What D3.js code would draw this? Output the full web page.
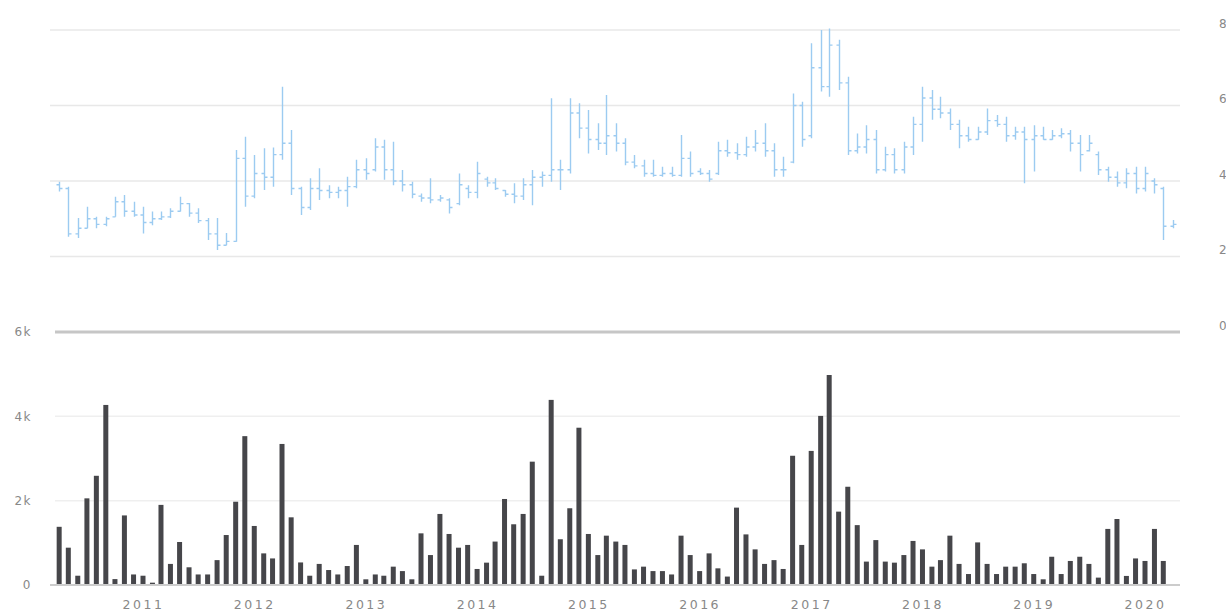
<!DOCTYPE html>
<html>
<head>
<meta charset="utf-8">
<script src="https://cdn.jsdelivr.net/npm/d3@7"></script>
<style>
  html, body { margin: 0; padding: 0; background: #ffffff; }
  svg { display: block; }
  text { font-family: "DejaVu Sans", Verdana, sans-serif; }
</style>
</head>
<body>
<svg id="chart" width="1226" height="614"></svg>
<script>
// ---- Data (monthly, April 2010 .. April 2020) ----
const startMonth = "2010-04";
const priceHigh = [3.98,3.85,3.02,3.32,3.05,3.05,3.58,3.63,3.45,
  3.32,3.19,3.19,3.28,3.58,3.42,3.28,3.02,3.02,2.62,4.82,5.17,
  4.69,4.87,4.89,6.50,5.35,3.85,4.07,4.34,3.89,3.85,4.11,4.56,
  4.60,5.13,5.09,5.04,4.29,3.98,3.67,4.07,3.63,3.54,4.20,3.89,
  4.51,4.11,4.07,3.76,3.94,4.07,4.29,4.25,6.19,4.56,6.19,6.06,
  5.88,5.53,6.28,5.53,5.13,4.69,4.56,4.56,4.38,4.38,5.22,4.78,
  4.34,4.29,5.04,5.09,5.00,5.17,5.35,5.53,5.00,4.64,6.32,6.10,
  7.65,8.00,8.04,7.74,6.76,5.26,5.48,5.35,4.91,4.87,5.04,5.70,
  6.50,6.41,6.23,5.92,5.62,5.44,5.44,5.92,5.75,5.70,5.44,5.44,
  5.48,5.44,5.35,5.40,5.35,5.22,5.22,4.78,4.38,4.25,4.34,4.38,
  4.38,4.07,3.85,2.97];
const priceLow = [3.72,2.52,2.49,2.75,2.75,2.80,3.05,3.05,3.05,
  2.61,2.83,2.97,3.02,3.19,3.05,2.89,2.44,2.17,2.30,2.39,3.32,
  3.54,3.76,3.85,4.56,3.63,3.10,3.23,3.50,3.54,3.54,3.32,3.81,
  4.03,4.25,4.03,3.89,3.72,3.54,3.45,3.41,3.45,3.14,3.36,3.54,
  3.54,3.85,3.76,3.58,3.41,3.50,3.36,3.85,3.98,3.76,4.20,5.13,
  4.73,4.82,4.69,4.78,4.42,4.34,4.11,4.11,4.11,4.11,4.11,4.11,
  4.16,3.98,4.16,4.64,4.56,4.64,4.78,4.64,4.11,4.11,4.47,4.91,
  5.13,6.37,6.23,6.41,4.69,4.73,4.73,4.20,4.25,4.20,4.20,4.69,
  5.04,5.62,5.66,5.35,4.87,5.04,5.09,5.22,5.44,5.04,5.09,3.94,
  4.25,5.09,5.09,5.13,4.78,4.25,4.78,4.16,3.98,3.85,3.81,3.67,
  3.72,3.67,2.44,2.75];
const priceOpen = [3.90,3.80,2.60,2.75,3.00,2.85,3.05,3.45,3.20,
  3.10,2.90,3.00,3.05,3.20,3.40,3.15,2.95,2.60,2.30,2.40,4.60,
  3.60,4.20,4.10,4.70,5.00,3.80,3.30,3.80,3.75,3.70,3.75,3.85,
  4.30,4.30,4.90,4.30,4.00,3.90,3.60,3.55,3.50,3.50,3.40,3.80,
  3.70,4.05,3.95,3.75,3.65,3.60,3.90,4.10,4.15,4.30,4.30,5.80,
  5.40,5.10,5.00,5.20,5.00,4.50,4.40,4.20,4.15,4.20,4.15,4.60,
  4.25,4.20,4.20,4.80,4.75,4.70,4.90,5.00,4.80,4.30,4.50,6.00,
  5.20,7.00,6.50,7.60,6.60,4.80,4.90,5.10,4.30,4.70,4.30,4.90,
  5.50,6.20,5.90,5.80,5.50,5.20,5.10,5.30,5.60,5.50,5.20,5.30,
  5.10,5.20,5.10,5.20,5.25,5.00,4.80,4.70,4.30,4.10,3.95,4.20,
  3.80,4.00,3.80,2.80];
const priceClose = [3.80,2.60,2.75,3.00,2.85,3.00,3.45,3.20,3.10,
  2.90,3.00,3.05,3.20,3.40,3.15,2.95,2.60,2.30,2.40,4.60,3.60,
  4.20,4.10,4.70,5.00,3.80,3.30,3.80,3.75,3.70,3.75,3.85,4.30,
  4.20,4.90,4.30,4.00,3.90,3.65,3.55,3.50,3.55,3.30,3.90,3.70,
  4.20,3.95,3.80,3.65,3.60,3.90,4.10,4.15,4.30,4.30,5.80,5.40,
  5.10,5.00,5.20,5.00,4.50,4.40,4.20,4.15,4.20,4.15,4.60,4.20,
  4.20,4.05,4.80,4.75,4.70,4.90,5.00,4.80,4.30,4.30,6.00,5.10,
  7.00,6.50,7.60,6.60,4.80,4.90,5.10,4.30,4.70,4.30,4.90,5.50,
  6.20,5.90,5.80,5.50,5.20,5.10,5.30,5.60,5.50,5.20,5.30,5.10,
  5.20,5.10,5.20,5.25,5.00,4.70,5.00,4.30,4.10,3.95,4.20,3.80,
  4.20,3.90,2.80,2.85];
const volume = [1380,885,220,2055,2590,4270,140,1650,250,
  220,55,1900,500,1020,420,250,250,590,1185,1975,3530,
  1400,750,630,3345,1605,535,220,500,355,250,450,950,
  135,250,220,435,330,135,1225,710,1685,1210,885,950,
  380,530,1030,2040,1440,1685,2925,220,4390,1085,1820,3730,
  1210,710,1170,1030,950,370,435,330,330,250,1170,710,
  330,750,395,200,1835,1200,845,500,590,380,3065,950,
  3180,4010,4980,1740,2330,1420,555,1065,555,530,710,1045,
  845,435,590,1170,500,260,1010,500,260,435,435,515,
  260,135,670,260,570,670,500,175,1330,1565,215,630,
  570,1330,570,0];
const priceTicks = [0, 2, 4, 6, 8];
const volumeTicks = [0, 2000, 4000, 6000];
const yearTicks = [2011,2012,2013,2014,2015,2016,2017,2018,2019,2020];

// ---- Build records ----
const parseMonth = d3.utcParse("%Y-%m");
const start = parseMonth(startMonth);
const rows = priceHigh.map((h, i) => ({
  date: d3.utcMonth.offset(start, i),
  high: h, low: priceLow[i], open: priceOpen[i], close: priceClose[i],
  vol: volume[i]
}));

// ---- Layout ----
const plotLeft = 50, plotRight = 1180;
const svg = d3.select("#chart");
svg.append("rect").attr("width", 1226).attr("height", 614).attr("fill", "#ffffff");

const anchor = d3.scaleUtc()
  .domain([Date.UTC(2011,0,1), Date.UTC(2020,0,1)])
  .range([143, 1145]);
const x = d3.scaleUtc()
  .domain([anchor.invert(plotLeft), anchor.invert(plotRight)])
  .range([plotLeft, plotRight]);

const yPrice = d3.scaleLinear().domain([0, 8]).range([332, 30]);
const yVol = d3.scaleLinear().domain([0, 6000]).range([585, 332]);

// ---- Grid: price panel ----
svg.append("g").selectAll("line")
  .data(priceTicks.filter(t => t > 0))
  .join("line")
  .attr("x1", plotLeft).attr("x2", plotRight)
  .attr("y1", d => yPrice(d)).attr("y2", d => yPrice(d))
  .attr("stroke", "#e8e8e8").attr("stroke-width", 1.5);

// ---- Grid: volume panel ----
svg.append("g").selectAll("line")
  .data(volumeTicks.filter(t => t > 0 && t < 6000))
  .join("line")
  .attr("x1", 55).attr("x2", plotRight)
  .attr("y1", d => yVol(d)).attr("y2", d => yVol(d))
  .attr("stroke", "#efefef").attr("stroke-width", 1.5);

// separator (price 0 / volume 6k)
svg.append("line")
  .attr("x1", 55).attr("x2", plotRight)
  .attr("y1", yVol(6000)).attr("y2", yVol(6000))
  .attr("stroke", "#c6c6c6").attr("stroke-width", 3);

// ---- Volume bars ----
const barW = 5;
svg.append("g").selectAll("rect")
  .data(rows.filter(d => d.vol > 0))
  .join("rect")
  .attr("x", d => x(d.date) - barW / 2)
  .attr("width", barW)
  .attr("y", d => yVol(d.vol))
  .attr("height", d => yVol(0) - yVol(d.vol))
  .attr("fill", "#46464a");

// baseline
svg.append("line")
  .attr("x1", plotLeft).attr("x2", plotRight)
  .attr("y1", yVol(0)).attr("y2", yVol(0))
  .attr("stroke", "#cccccc").attr("stroke-width", 2);

// ---- OHLC ----
const tick = 3;
svg.append("g").selectAll("path")
  .data(rows)
  .join("path")
  .attr("d", d => {
    const cx = Math.round(x(d.date)) + 0.5;
    return `M${cx},${yPrice(d.high)}V${yPrice(d.low)}` +
      `M${cx - tick},${yPrice(d.open)}H${cx}` +
      `M${cx},${yPrice(d.close)}H${cx + tick}`;
  })
  .attr("fill", "none")
  .attr("stroke", "#9ccbf1")
  .attr("stroke-width", 1.4);

// ---- Axes ----
const labelColor = "#888888";

const gPriceAxis = svg.append("g")
  .attr("transform", "translate(1219,0)")
  .call(d3.axisRight(yPrice).tickValues(priceTicks).tickSize(0).tickPadding(0)
    .tickFormat(d3.format("d")));
gPriceAxis.select(".domain").remove();
gPriceAxis.selectAll("text")
  .attr("fill", labelColor).attr("font-size", 12).attr("dy", "-0.25em")
  .attr("text-anchor", "start");

const gVolAxis = svg.append("g")
  .attr("transform", "translate(32,0)")
  .call(d3.axisLeft(yVol).tickValues(volumeTicks).tickSize(0).tickPadding(0)
    .tickFormat(d => d === 0 ? "0" : (d / 1000) + "k"));
gVolAxis.select(".domain").remove();
gVolAxis.selectAll("text")
  .attr("fill", labelColor).attr("font-size", 12).attr("letter-spacing", 1.5);

const gX = svg.append("g")
  .attr("transform", `translate(0,${yVol(0)})`)
  .call(d3.axisBottom(x)
    .tickValues(yearTicks.map(y => new Date(Date.UTC(y, 0, 1))))
    .tickSize(0).tickPadding(15)
    .tickFormat(d3.utcFormat("%Y")));
gX.select(".domain").remove();
gX.selectAll("text")
  .attr("fill", labelColor).attr("font-size", 12.5).attr("letter-spacing", 2.5);
</script>
</body>
</html>
